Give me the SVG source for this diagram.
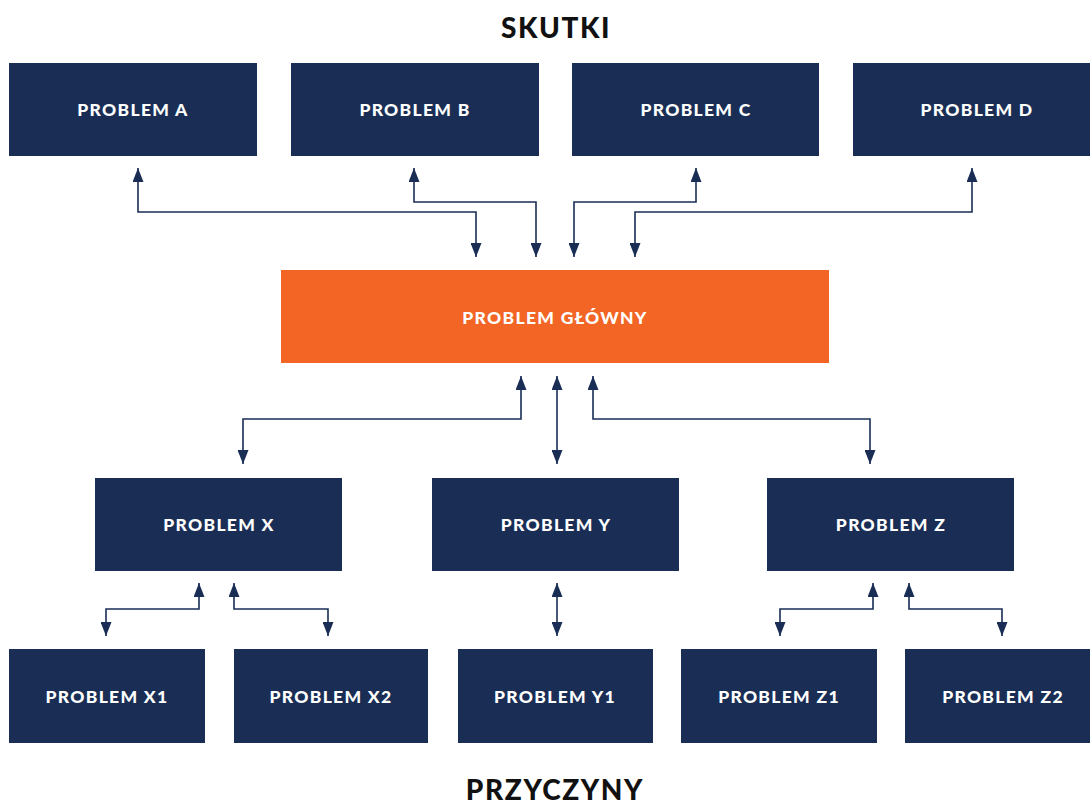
<svg xmlns="http://www.w3.org/2000/svg" width="1090" height="804" viewBox="0 0 1090 804">
  <style>
    .box { fill: #1a2e55; }
    .main { fill: #f26524; }
    .lbl { font-family: Lato, "Liberation Sans", sans-serif; font-weight: 900; font-size: 17.5px; letter-spacing: 1.3px; fill: #ffffff; text-anchor: middle; }
    .title { font-family: Lato, "Liberation Sans", sans-serif; font-weight: 900; font-size: 28px; letter-spacing: 1.6px; fill: #111111; text-anchor: middle; }
    .conn { fill: none; stroke: #1a2e55; stroke-width: 1.6; marker-start: url(#tip); marker-end: url(#tip); }
  </style>
  <defs>
    <marker id="tip" viewBox="0 0 14 11" refX="14" refY="5.5" markerWidth="14" markerHeight="11" markerUnits="userSpaceOnUse" orient="auto-start-reverse">
      <path d="M0,0 L14,5.5 L0,11 z" fill="#1a2e55"/>
    </marker>
  </defs>
  <rect width="1090" height="804" fill="#ffffff"/>

  <text class="title" x="556" y="38">SKUTKI</text>
  <text class="title" x="555" y="800">PRZYCZYNY</text>

  <g id="connectors">
    <path class="conn" d="M476,257 V212 H138 V168"/>
    <path class="conn" d="M536,257 V202 H414 V168"/>
    <path class="conn" d="M574,257 V202 H696 V168"/>
    <path class="conn" d="M635,257 V212 H972 V168"/>
    <path class="conn" d="M521,376 V419 H243 V464"/>
    <path class="conn" d="M557,376 V464"/>
    <path class="conn" d="M593,376 V419 H870 V464"/>
    <path class="conn" d="M199,583 V609 H106 V636"/>
    <path class="conn" d="M234,583 V609 H328 V636"/>
    <path class="conn" d="M557,583 V636"/>
    <path class="conn" d="M873,583 V609 H780 V636"/>
    <path class="conn" d="M909,583 V609 H1002 V636"/>
  </g>

  <g id="problem-a"><rect class="box" x="9" y="63" width="248" height="93"/><text class="lbl" x="133" y="116">PROBLEM A</text></g>
  <g id="problem-b"><rect class="box" x="291" y="63" width="248" height="93"/><text class="lbl" x="415" y="116">PROBLEM B</text></g>
  <g id="problem-c"><rect class="box" x="572" y="63" width="247" height="93"/><text class="lbl" x="696" y="116">PROBLEM C</text></g>
  <g id="problem-d"><rect class="box" x="853" y="63" width="237" height="93"/><text class="lbl" x="977" y="116">PROBLEM D</text></g>

  <g id="problem-glowny"><rect class="main" x="281" y="270" width="548" height="93"/><text class="lbl" x="555" y="324">PROBLEM GŁÓWNY</text></g>

  <g id="problem-x"><rect class="box" x="95" y="478" width="247" height="93"/><text class="lbl" x="219" y="531">PROBLEM X</text></g>
  <g id="problem-y"><rect class="box" x="432" y="478" width="247" height="93"/><text class="lbl" x="556" y="531">PROBLEM Y</text></g>
  <g id="problem-z"><rect class="box" x="767" y="478" width="247" height="93"/><text class="lbl" x="891" y="531">PROBLEM Z</text></g>

  <g id="problem-x1"><rect class="box" x="9" y="649" width="196" height="94"/><text class="lbl" x="107" y="703">PROBLEM X1</text></g>
  <g id="problem-x2"><rect class="box" x="234" y="649" width="194" height="94"/><text class="lbl" x="331" y="703">PROBLEM X2</text></g>
  <g id="problem-y1"><rect class="box" x="458" y="649" width="195" height="94"/><text class="lbl" x="555" y="703">PROBLEM Y1</text></g>
  <g id="problem-z1"><rect class="box" x="681" y="649" width="196" height="94"/><text class="lbl" x="779" y="703">PROBLEM Z1</text></g>
  <g id="problem-z2"><rect class="box" x="905" y="649" width="185" height="94"/><text class="lbl" x="1003" y="703">PROBLEM Z2</text></g>
</svg>
